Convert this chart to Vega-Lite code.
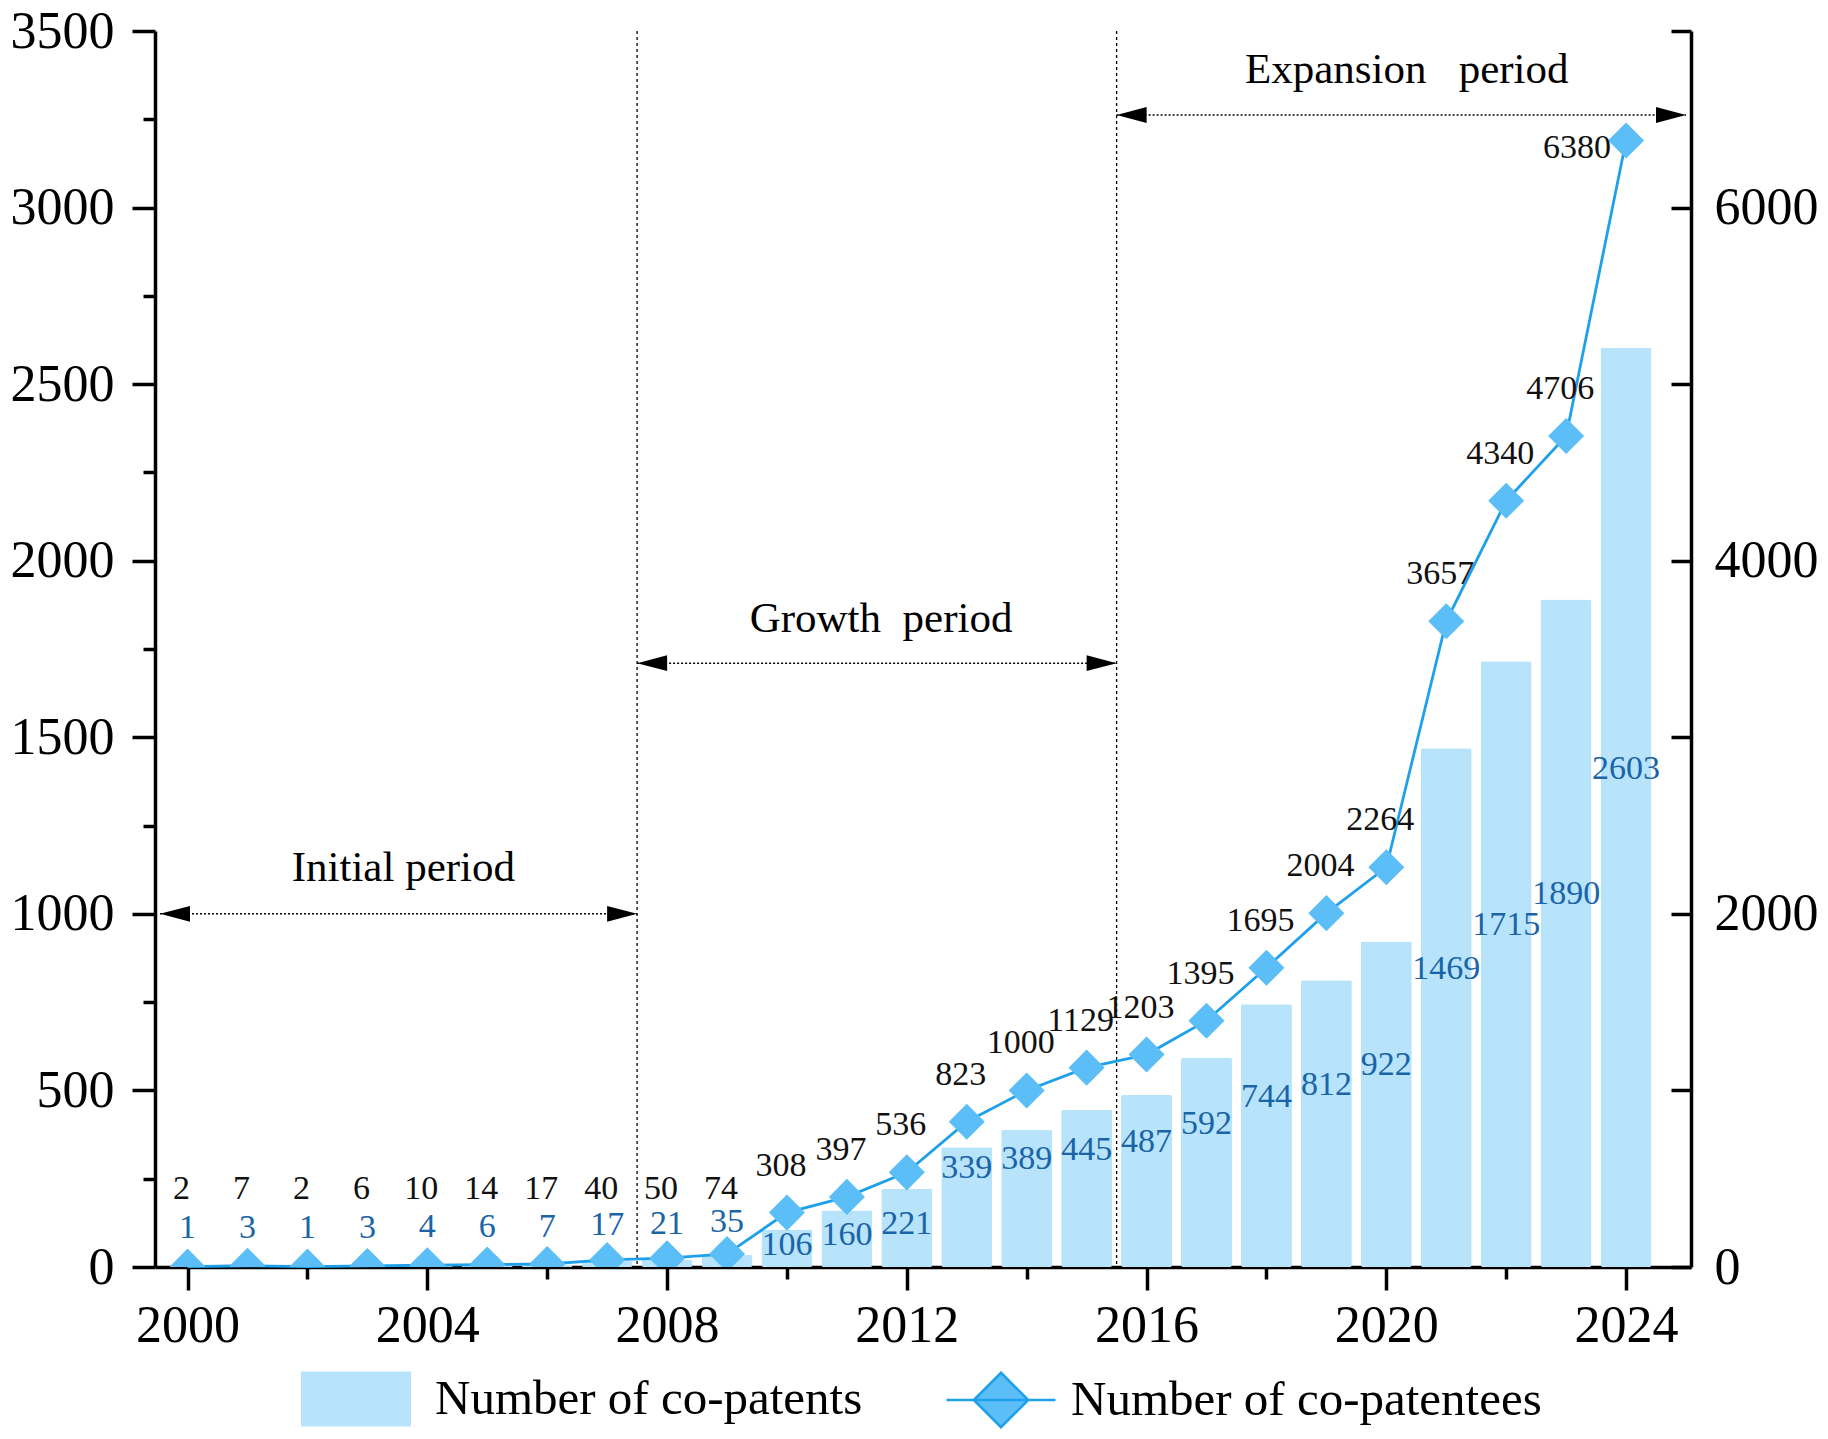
{
  "$schema": "https://vega.github.io/schema/vega-lite/v6.json",
  "autosize": "none",
  "width": 1536,
  "height": 1236,
  "padding": {"left": 155, "top": 31, "right": 137, "bottom": 172},
  "background": "white",
  "config": {
    "view": {"stroke": null},
    "font": "Liberation Serif",
    "axis": {"labelFont": "Liberation Serif", "grid": false, "domainColor": "black", "tickColor": "black", "labelColor": "black", "domainWidth": 3.5, "tickWidth": 3.5, "labelFontSize": 52}
  },
  "datasets": {
    "main": [
      {"year": 2000, "patents": 1, "patentees": 2},
      {"year": 2001, "patents": 3, "patentees": 7},
      {"year": 2002, "patents": 1, "patentees": 2},
      {"year": 2003, "patents": 3, "patentees": 6},
      {"year": 2004, "patents": 4, "patentees": 10},
      {"year": 2005, "patents": 6, "patentees": 14},
      {"year": 2006, "patents": 7, "patentees": 17},
      {"year": 2007, "patents": 17, "patentees": 40},
      {"year": 2008, "patents": 21, "patentees": 50},
      {"year": 2009, "patents": 35, "patentees": 74},
      {"year": 2010, "patents": 106, "patentees": 308},
      {"year": 2011, "patents": 160, "patentees": 397},
      {"year": 2012, "patents": 221, "patentees": 536},
      {"year": 2013, "patents": 339, "patentees": 823},
      {"year": 2014, "patents": 389, "patentees": 1000},
      {"year": 2015, "patents": 445, "patentees": 1129},
      {"year": 2016, "patents": 487, "patentees": 1203},
      {"year": 2017, "patents": 592, "patentees": 1395},
      {"year": 2018, "patents": 744, "patentees": 1695},
      {"year": 2019, "patents": 812, "patentees": 2004},
      {"year": 2020, "patents": 922, "patentees": 2264},
      {"year": 2021, "patents": 1469, "patentees": 3657},
      {"year": 2022, "patents": 1715, "patentees": 4340},
      {"year": 2023, "patents": 1890, "patentees": 4706},
      {"year": 2024, "patents": 2603, "patentees": 6380}
    ],
    "periods": [
      {"name": "Initial period", "x1": 1999.54, "x2": 2007.5, "y": 1000, "lx": 2003.6, "ly": 1129},
      {"name": "Growth\u00a0\u00a0period", "x1": 2007.5, "x2": 2015.5, "y": 1710, "lx": 2011.57, "ly": 1836},
      {"name": "Expansion\u00a0\u00a0\u00a0period", "x1": 2015.5, "x2": 2025, "y": 3262, "lx": 2020.34, "ly": 3390}
    ],
    "dividers": [{"x": 2007.5}, {"x": 2015.5}]
  },
  "layer": [
    {
      "data": {"name": "main"},
      "mark": {"type": "bar", "size": 51, "cornerRadius": 2},
      "encoding": {
        "x": {"field": "year", "type": "quantitative", "scale": {"domain": [1999.54, 2025], "nice": false, "zero": false},
          "axis": {"title": null, "values": [2000, 2002, 2004, 2006, 2008, 2010, 2012, 2014, 2016, 2018, 2020, 2022, 2024], "format": "d",
            "labelExpr": "datum.value % 4 == 0 ? datum.label : ''",
            "tickSize": {"condition": {"test": "datum.value % 4 == 0", "value": 23}, "value": 12},
            "labelPadding": 10}},
        "y": {"field": "patents", "type": "quantitative", "scale": {"domain": [0, 3500], "nice": false},
          "axis": {"orient": "left", "title": null, "values": [0, 250, 500, 750, 1000, 1250, 1500, 1750, 2000, 2250, 2500, 2750, 3000, 3250, 3500], "format": "d",
            "labelExpr": "datum.value % 500 == 0 ? datum.label : ''",
            "tickSize": {"condition": {"test": "datum.value % 500 == 0", "value": 23}, "value": 12},
            "labelPadding": 18}},
        "fill": {"datum": "Number of co-patents", "type": "nominal", "scale": {"range": ["#B7E3FB"]},
          "legend": {"orient": "none", "legendX": 146, "legendY": 1313, "title": null, "padding": 0, "labelLimit": 0,
            "symbolType": "M-1,-0.5H1V0.5H-1Z", "symbolSize": 12100, "symbolStrokeWidth": 0,
            "labelFont": "Liberation Serif", "labelFontSize": 49, "labelColor": "black", "labelOffset": 24}}
      }
    },
    {
      "data": {"name": "dividers"},
      "mark": {"type": "rule", "color": "black", "strokeWidth": 1.3, "strokeDash": [3, 3]},
      "encoding": {"x": {"field": "x", "type": "quantitative",
          "axis": {"title": null, "values": [2000, 2002, 2004, 2006, 2008, 2010, 2012, 2014, 2016, 2018, 2020, 2022, 2024], "format": "d",
            "labelExpr": "datum.value % 4 == 0 ? datum.label : ''",
            "tickSize": {"condition": {"test": "datum.value % 4 == 0", "value": 23}, "value": 12},
            "labelPadding": 10}}}
    },
    {
      "data": {"name": "periods"},
      "mark": {"type": "rule", "color": "black", "strokeWidth": 1.5, "strokeDash": [2, 2]},
      "encoding": {
        "x": {"field": "x1", "type": "quantitative",
          "axis": {"title": null, "values": [2000, 2002, 2004, 2006, 2008, 2010, 2012, 2014, 2016, 2018, 2020, 2022, 2024], "format": "d",
            "labelExpr": "datum.value % 4 == 0 ? datum.label : ''",
            "tickSize": {"condition": {"test": "datum.value % 4 == 0", "value": 23}, "value": 12},
            "labelPadding": 10}},
        "x2": {"field": "x2"},
        "y": {"field": "y", "type": "quantitative", "scale": {"domain": [0, 3500], "nice": false}, "axis": null}
      }
    },
    {
      "data": {"name": "periods"},
      "transform": [{"fold": ["x1", "x2"], "as": ["end", "xp"]}],
      "mark": {"type": "point", "filled": true, "color": "black", "opacity": 1, "size": 900},
      "encoding": {
        "x": {"field": "xp", "type": "quantitative",
          "axis": {"title": null, "values": [2000, 2002, 2004, 2006, 2008, 2010, 2012, 2014, 2016, 2018, 2020, 2022, 2024], "format": "d",
            "labelExpr": "datum.value % 4 == 0 ? datum.label : ''",
            "tickSize": {"condition": {"test": "datum.value % 4 == 0", "value": 23}, "value": 12},
            "labelPadding": 10}},
        "y": {"field": "y", "type": "quantitative", "scale": {"domain": [0, 3500], "nice": false}, "axis": null},
        "shape": {"field": "end", "type": "nominal", "scale": {"domain": ["x1", "x2"], "range": ["M0,0L2,-0.53L2,0.53Z", "M0,0L-2,-0.53L-2,0.53Z"]}, "legend": null}
      }
    },
    {
      "data": {"name": "periods"},
      "mark": {"type": "text", "font": "Liberation Serif", "fontSize": 43, "color": "black", "baseline": "middle", "align": "center"},
      "encoding": {
        "x": {"field": "lx", "type": "quantitative",
          "axis": {"title": null, "values": [2000, 2002, 2004, 2006, 2008, 2010, 2012, 2014, 2016, 2018, 2020, 2022, 2024], "format": "d",
            "labelExpr": "datum.value % 4 == 0 ? datum.label : ''",
            "tickSize": {"condition": {"test": "datum.value % 4 == 0", "value": 23}, "value": 12},
            "labelPadding": 10}},
        "y": {"field": "ly", "type": "quantitative", "scale": {"domain": [0, 3500], "nice": false}, "axis": null},
        "text": {"field": "name"}
      }
    },
    {
      "data": {"name": "main"},
      "mark": {"type": "line", "strokeWidth": 2.8},
      "encoding": {
        "x": {"field": "year", "type": "quantitative",
          "axis": {"title": null, "values": [2000, 2002, 2004, 2006, 2008, 2010, 2012, 2014, 2016, 2018, 2020, 2022, 2024], "format": "d",
            "labelExpr": "datum.value % 4 == 0 ? datum.label : ''",
            "tickSize": {"condition": {"test": "datum.value % 4 == 0", "value": 23}, "value": 12},
            "labelPadding": 10}},
        "y": {"field": "patentees", "type": "quantitative", "scale": {"domain": [0, 7000], "nice": false},
          "axis": {"orient": "right", "title": null, "values": [0, 1000, 2000, 3000, 4000, 5000, 6000, 7000], "format": "d",
            "labelExpr": "datum.value % 2000 == 0 && datum.value < 7000 ? datum.label : ''",
            "tickSize": -20, "labelPadding": 43}},
        "stroke": {"datum": "Number of co-patentees", "type": "nominal", "scale": {"range": ["#1EA0EB"]},
          "legend": {"orient": "none", "legendX": 790, "legendY": 1313, "title": null, "padding": 0, "labelLimit": 0,
            "symbolType": "M-1,0H1M0,-0.5L0.5,0L0,0.5L-0.5,0Z", "symbolSize": 11881, "symbolStrokeWidth": 2.5,
            "symbolFillColor": "#5CBEF7",
            "labelFont": "Liberation Serif", "labelFontSize": 49, "labelColor": "black", "labelOffset": 14,
            "encode": {"symbols": {"update": {"fill": {"value": "#5CBEF7"}, "stroke": {"value": "#1EA0EB"}, "strokeWidth": {"value": 2.5}}}}}}
      }
    },
    {
      "data": {"name": "main"},
      "mark": {"type": "point", "shape": "diamond", "filled": true, "size": 1300, "color": "#5CBEF7", "opacity": 1, "clip": true},
      "encoding": {
        "x": {"field": "year", "type": "quantitative",
          "axis": {"title": null, "values": [2000, 2002, 2004, 2006, 2008, 2010, 2012, 2014, 2016, 2018, 2020, 2022, 2024], "format": "d",
            "labelExpr": "datum.value % 4 == 0 ? datum.label : ''",
            "tickSize": {"condition": {"test": "datum.value % 4 == 0", "value": 23}, "value": 12},
            "labelPadding": 10}},
        "y": {"field": "patentees", "type": "quantitative", "scale": {"domain": [0, 7000], "nice": false}, "axis": null}
      }
    },
    {
      "data": {"name": "main"},
      "transform": [{"calculate": "datum.year >= 2010 && datum.year <= 2012 ? datum.patents / 2 + 10 : datum.patents / 2 + 110", "as": "lp"}],
      "mark": {"type": "text", "font": "Liberation Serif", "fontSize": 34, "color": "#1A64A8", "baseline": "middle", "align": "center"},
      "encoding": {
        "x": {"field": "year", "type": "quantitative",
          "axis": {"title": null, "values": [2000, 2002, 2004, 2006, 2008, 2010, 2012, 2014, 2016, 2018, 2020, 2022, 2024], "format": "d",
            "labelExpr": "datum.value % 4 == 0 ? datum.label : ''",
            "tickSize": {"condition": {"test": "datum.value % 4 == 0", "value": 23}, "value": 12},
            "labelPadding": 10}},
        "y": {"field": "lp", "type": "quantitative", "scale": {"domain": [0, 3500], "nice": false}, "axis": null},
        "text": {"field": "patents"}
      }
    },
    {
      "data": {"name": "main"},
      "transform": [{"filter": "datum.year < 2024"}, {"calculate": "max(datum.patentees, 175)", "as": "lp2"}],
      "mark": {"type": "text", "font": "Liberation Serif", "fontSize": 34, "color": "#111111", "baseline": "middle", "align": "center", "dx": -6, "dy": -47},
      "encoding": {
        "x": {"field": "year", "type": "quantitative",
          "axis": {"title": null, "values": [2000, 2002, 2004, 2006, 2008, 2010, 2012, 2014, 2016, 2018, 2020, 2022, 2024], "format": "d",
            "labelExpr": "datum.value % 4 == 0 ? datum.label : ''",
            "tickSize": {"condition": {"test": "datum.value % 4 == 0", "value": 23}, "value": 12},
            "labelPadding": 10}},
        "y": {"field": "lp2", "type": "quantitative", "scale": {"domain": [0, 7000], "nice": false}, "axis": null},
        "text": {"field": "patentees"}
      }
    },
    {
      "data": {"name": "main"},
      "transform": [{"filter": "datum.year == 2024"}],
      "mark": {"type": "text", "font": "Liberation Serif", "fontSize": 34, "color": "#111111", "baseline": "middle", "align": "center", "dx": -49, "dy": 8},
      "encoding": {
        "x": {"field": "year", "type": "quantitative",
          "axis": {"title": null, "values": [2000, 2002, 2004, 2006, 2008, 2010, 2012, 2014, 2016, 2018, 2020, 2022, 2024], "format": "d",
            "labelExpr": "datum.value % 4 == 0 ? datum.label : ''",
            "tickSize": {"condition": {"test": "datum.value % 4 == 0", "value": 23}, "value": 12},
            "labelPadding": 10}},
        "y": {"field": "patentees", "type": "quantitative", "scale": {"domain": [0, 7000], "nice": false}, "axis": null},
        "text": {"field": "patentees"}
      }
    }
  ],
  "resolve": {"scale": {"y": "independent"}}
}
